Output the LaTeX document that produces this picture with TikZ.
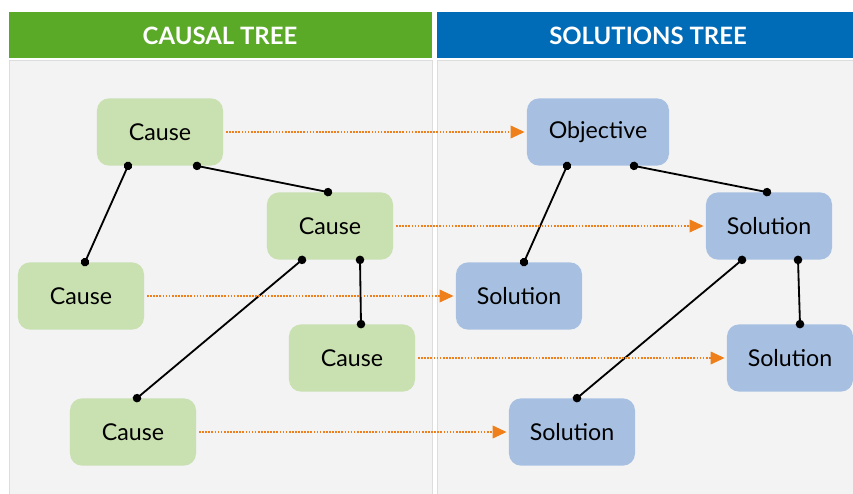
\documentclass[tikz,border=0pt]{standalone}
\usepackage{fontspec}
\setmainfont{Lato}
\usepackage{tikz}
\usetikzlibrary{arrows.meta, positioning}
\usepackage{xcolor}
\definecolor{headgreen}{HTML}{5AAA28}
\definecolor{headblue}{HTML}{006BB6}
\definecolor{boxgreen}{HTML}{C9E0B1}
\definecolor{boxblue}{HTML}{A7C0E1}
\definecolor{panelgray}{HTML}{F3F3F3}
\definecolor{panelline}{HTML}{DDDDDD}
\definecolor{maporange}{HTML}{EE7F1A}

\begin{document}
\begin{tikzpicture}[
	x=0.025cm, y=-0.025cm,
	every node/.style={font=\fontsize{16.5}{19}\selectfont},
	header/.style={text=white, font=\fontsize{17}{20}\selectfont\bfseries},
	panel/.style={fill=panelgray, draw=panelline, line width=0.6pt},
	cause box/.style={fill=boxgreen, rounded corners=0.3cm, minimum width=3.15cm, minimum height=1.68cm},
	solution box/.style={fill=boxblue, rounded corners=0.3cm, minimum width=3.15cm, minimum height=1.68cm},
	link/.style={line width=1.3pt, {Circle[length=6pt]}-{Circle[length=6pt]}, shorten <=-3pt, shorten >=-3pt},
	map arrow/.style={maporange, densely dotted, line width=1.2pt, -{Triangle[length=10pt, width=9pt]}, shorten <=2pt, shorten >=1.5pt}
	]
	\useasboundingbox (0,0) rectangle (853,493);
	% =====================================================
	% KOLOM DAN JUDUL
	% =====================================================
	\fill[headgreen] (9,12) rectangle (432,58);
	\fill[headblue] (437,12) rectangle (853,58);
	\draw[panel] (9,60) rectangle (432,495);
	\draw[panel] (437,60) rectangle (855,495);
	\node[header] (causalTitle) at (220,36) {CAUSAL TREE};
	\node[header] (solutionTitle) at (648,36) {SOLUTIONS TREE};

	% =====================================================
	% POHON SEBAB
	% =====================================================
	\node[cause box] (causeTop) at (160,132) {Cause};
	\node[cause box] (causeMid) at (330,226) {Cause};
	\node[cause box] (causeLeft) at (81,296) {Cause};
	\node[cause box] (causeRight) at (352,358) {Cause};
	\node[cause box] (causeLow) at (133,432) {Cause};

	% =====================================================
	% POHON SOLUSI
	% =====================================================
	\node[solution box, minimum width=3.55cm] (objective) at (598,132) {Objective};
	\node[solution box] (solMid) at (769,226) {Solution};
	\node[solution box] (solLeft) at (519,296) {Solution};
	\node[solution box] (solRight) at (790,358) {Solution};
	\node[solution box] (solLow) at (572,432) {Solution};

	% =====================================================
	% HUBUNGAN
	% =====================================================
	\draw[link] ([xshift=-32*0.025cm]causeTop.south) -- ([xshift=4*0.025cm]causeLeft.north);
	\draw[link] ([xshift=37*0.025cm]causeTop.south) -- ([xshift=-2*0.025cm]causeMid.north);
	\draw[link] ([xshift=-28*0.025cm]causeMid.south) -- ([xshift=4*0.025cm]causeLow.north);
	\draw[link] ([xshift=30*0.025cm]causeMid.south) -- ([xshift=9*0.025cm]causeRight.north);

	\draw[link] ([xshift=-31*0.025cm]objective.south) -- ([xshift=5*0.025cm]solLeft.north);
	\draw[link] ([xshift=36*0.025cm]objective.south) -- ([xshift=-2*0.025cm]solMid.north);
	\draw[link] ([xshift=-27*0.025cm]solMid.south) -- ([xshift=5*0.025cm]solLow.north);
	\draw[link] ([xshift=29*0.025cm]solMid.south) -- ([xshift=10*0.025cm]solRight.north);

	% =====================================================
	% PEMETAAN SEBAB KE SOLUSI
	% =====================================================
	\draw[map arrow] (causeTop.east) -- (objective.west);
	\draw[map arrow] (causeMid.east) -- (solMid.west);
	\draw[map arrow] (causeLeft.east) -- (solLeft.west);
	\draw[map arrow] (causeRight.east) -- (solRight.west);
	\draw[map arrow] (causeLow.east) -- (solLow.west);

\end{tikzpicture}
\end{document}
